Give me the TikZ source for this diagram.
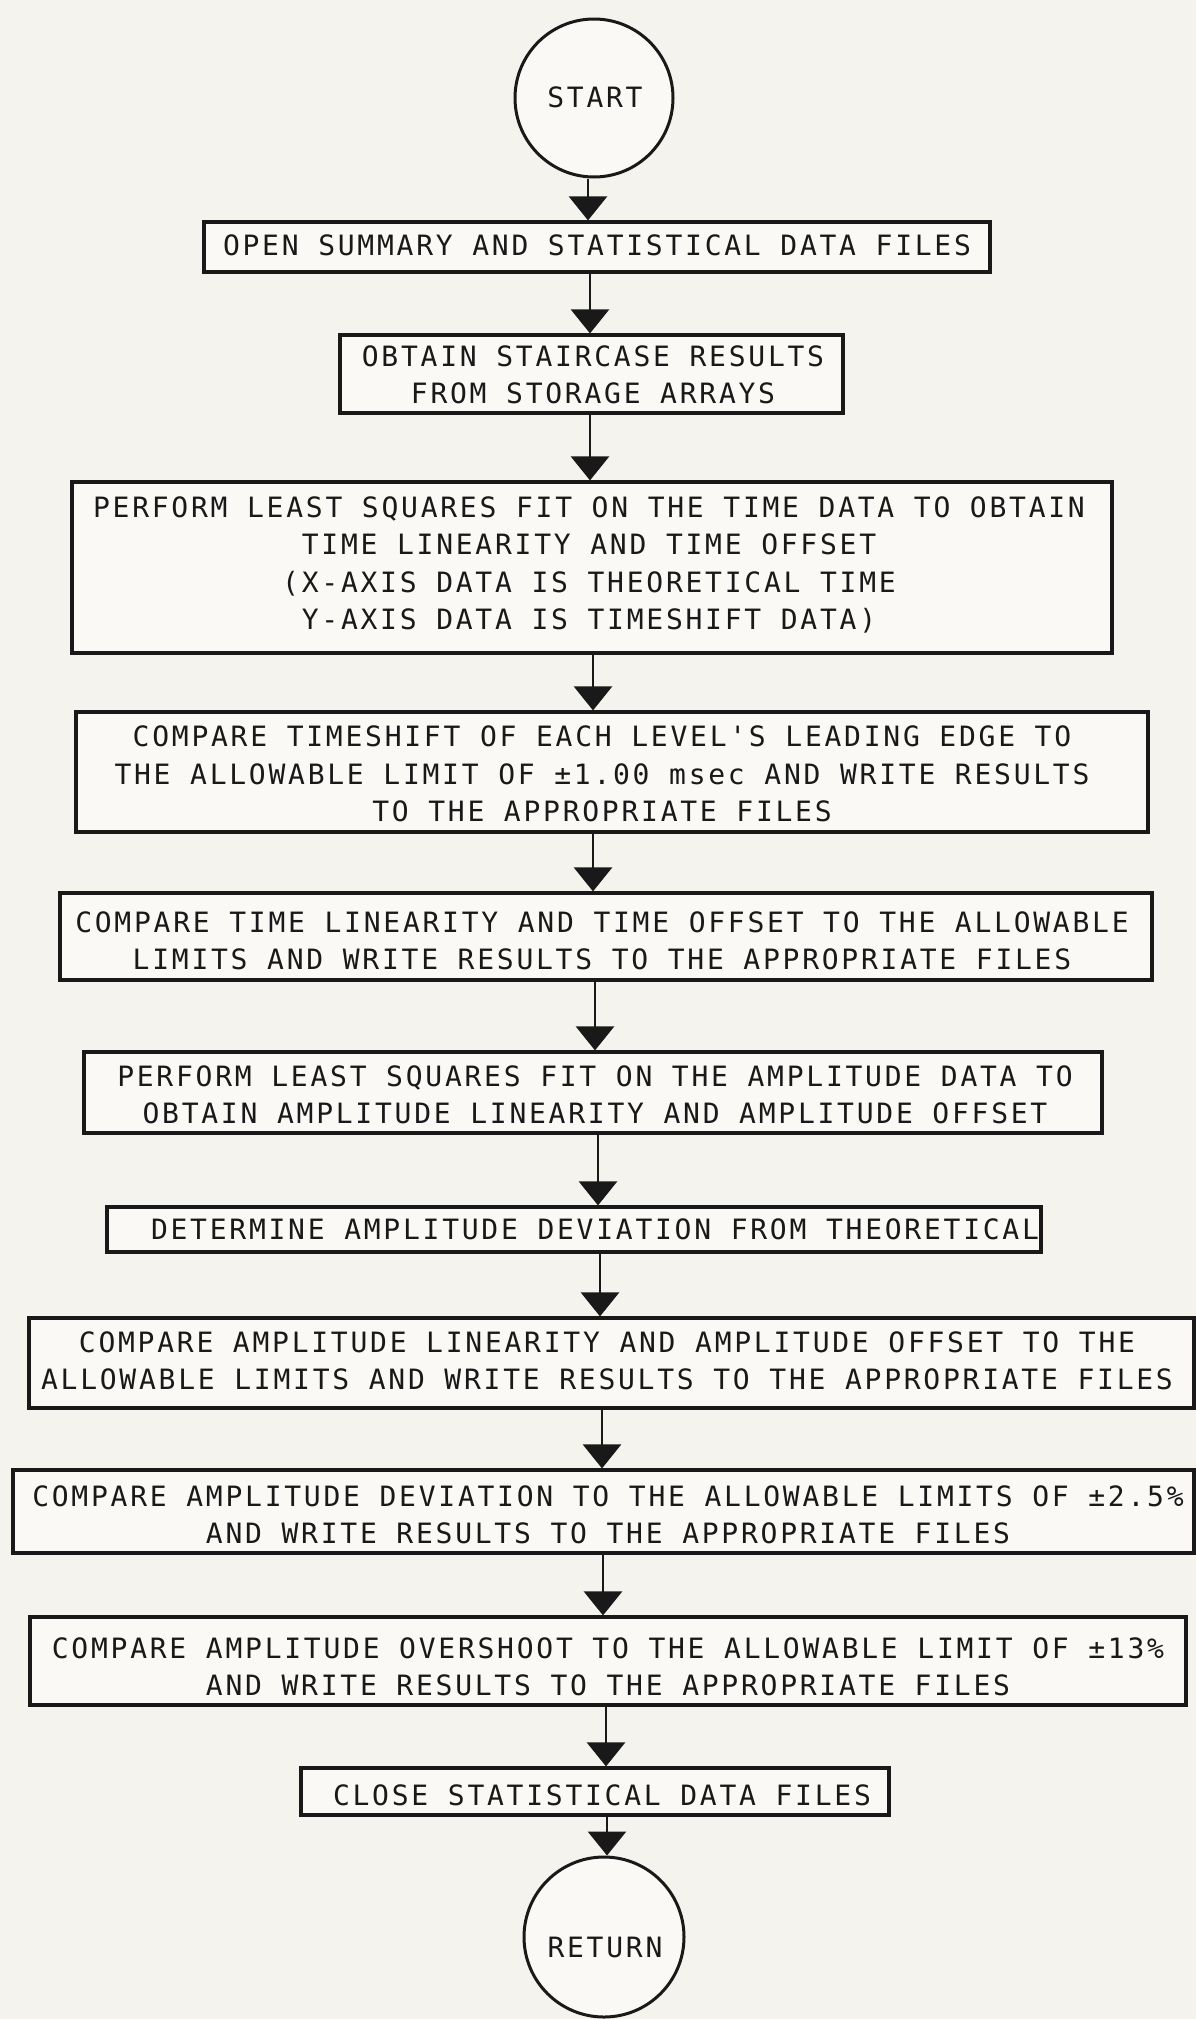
\documentclass[tikz,border=0pt]{standalone}
\usepackage{fontspec}
\usetikzlibrary{arrows.meta}
\newfontfamily\plotfont[LetterSpace=9.8]{DejaVu Sans Mono}
\definecolor{paper}{RGB}{245,243,238}
\definecolor{boxfill}{RGB}{250,249,246}
\definecolor{ink}{RGB}{25,25,25}
\begin{document}
\begin{tikzpicture}[x=1pt,y=-1pt,
  box/.style={draw=ink, fill=boxfill, line width=3.2pt, rectangle, inner sep=0pt},
  term/.style={draw=ink, fill=boxfill, line width=3pt, circle, inner sep=0pt, minimum size=158pt},
  txt/.style={font=\plotfont\fontsize{28}{37.5}\selectfont, align=center, inner sep=0pt, text=ink},
  arr/.style={draw=ink, line width=2.8pt, -{Triangle[width=38pt,length=24pt]}},
]
\fill[paper] (0,0) rectangle (1196,2019);
\useasboundingbox (0,0) rectangle (1196,2019);

% terminals
\node[term] (start) at (594,98) {};
\node[txt] (tstart) at (595,97) {START};
\node[term, minimum size=160pt] (ret) at (604,1937) {};
\node[txt] (tret) at (605,1947) {RETURN};

% boxes
\node[box, minimum width=786pt,  minimum height=50pt]  (b1)  at (597,247) {};
\node[box, minimum width=503pt,  minimum height=78pt]  (b2)  at (591.5,374) {};
\node[box, minimum width=1040pt, minimum height=171pt] (b3)  at (592,567.5) {};
\node[box, minimum width=1072pt, minimum height=120pt] (b4)  at (612,772) {};
\node[box, minimum width=1092pt, minimum height=87pt]  (b5)  at (606,936.5) {};
\node[box, minimum width=1018pt, minimum height=81pt]  (b6)  at (593,1092.5) {};
\node[box, minimum width=934pt,  minimum height=45pt]  (b7)  at (574,1229.5) {};
\node[box, minimum width=1165pt, minimum height=90pt]  (b8)  at (611.5,1363) {};
\node[box, minimum width=1181pt, minimum height=83pt]  (b9)  at (603.5,1511.5) {};
\node[box, minimum width=1156pt, minimum height=88pt]  (b10) at (608,1661) {};
\node[box, minimum width=588pt,  minimum height=47pt]  (b11) at (595,1791.5) {};

% texts
\node[txt] (t1) at (597,245) {OPEN SUMMARY AND STATISTICAL DATA FILES};
\node[txt] (t2) at (593,375) {OBTAIN STAIRCASE RESULTS\\FROM STORAGE ARRAYS};
\node[txt] (t3) at (589,565) {PERFORM LEAST SQUARES FIT ON THE TIME DATA TO OBTAIN\\TIME LINEARITY AND TIME OFFSET\\(X-AXIS DATA IS THEORETICAL TIME\\Y-AXIS DATA IS TIMESHIFT DATA)};
\node[txt] (t4) at (602,774) {COMPARE TIMESHIFT OF EACH LEVEL'S LEADING EDGE TO\\THE ALLOWABLE LIMIT OF ±1.00 msec AND WRITE RESULTS\\TO THE APPROPRIATE FILES};
\node[txt] (t5) at (602,941) {COMPARE TIME LINEARITY AND TIME OFFSET TO THE ALLOWABLE\\LIMITS AND WRITE RESULTS TO THE APPROPRIATE FILES};
\node[txt] (t6) at (595,1095) {PERFORM LEAST SQUARES FIT ON THE AMPLITUDE DATA TO\\OBTAIN AMPLITUDE LINEARITY AND AMPLITUDE OFFSET};
\node[txt] (t7) at (595,1229) {DETERMINE AMPLITUDE DEVIATION FROM THEORETICAL};
\node[txt] (t8) at (607,1361) {COMPARE AMPLITUDE LINEARITY AND AMPLITUDE OFFSET TO THE\\ALLOWABLE LIMITS AND WRITE RESULTS TO THE APPROPRIATE FILES};
\node[txt] (t9) at (608,1515) {COMPARE AMPLITUDE DEVIATION TO THE ALLOWABLE LIMITS OF ±2.5\%\\AND WRITE RESULTS TO THE APPROPRIATE FILES};
\node[txt] (t10) at (608,1667) {COMPARE AMPLITUDE OVERSHOOT TO THE ALLOWABLE LIMIT OF ±13\%\\AND WRITE RESULTS TO THE APPROPRIATE FILES};
\node[txt] (t11) at (602,1795) {CLOSE STATISTICAL DATA FILES};

% connectors
\draw[arr] (start.south -| 588,0) -- (b1.north -| 588,0);
\draw[arr] (b1.south -| 590,0) -- (b2.north -| 590,0);
\draw[arr] (b2.south -| 590,0) -- (b3.north -| 590,0);
\draw[arr] (b3.south -| 593,0) -- (b4.north -| 593,0);
\draw[arr] (b4.south -| 593,0) -- (b5.north -| 593,0);
\draw[arr] (b5.south -| 595,0) -- (b6.north -| 595,0);
\draw[arr] (b6.south -| 598,0) -- (b7.north -| 598,0);
\draw[arr] (b7.south -| 600,0) -- (b8.north -| 600,0);
\draw[arr] (b8.south -| 602,0) -- (b9.north -| 602,0);
\draw[arr] (b9.south -| 603,0) -- (b10.north -| 603,0);
\draw[arr] (b10.south -| 606,0) -- (b11.north -| 606,0);
\draw[arr] (b11.south -| 607,0) -- (ret.north -| 607,0);
\end{tikzpicture}
\end{document}
